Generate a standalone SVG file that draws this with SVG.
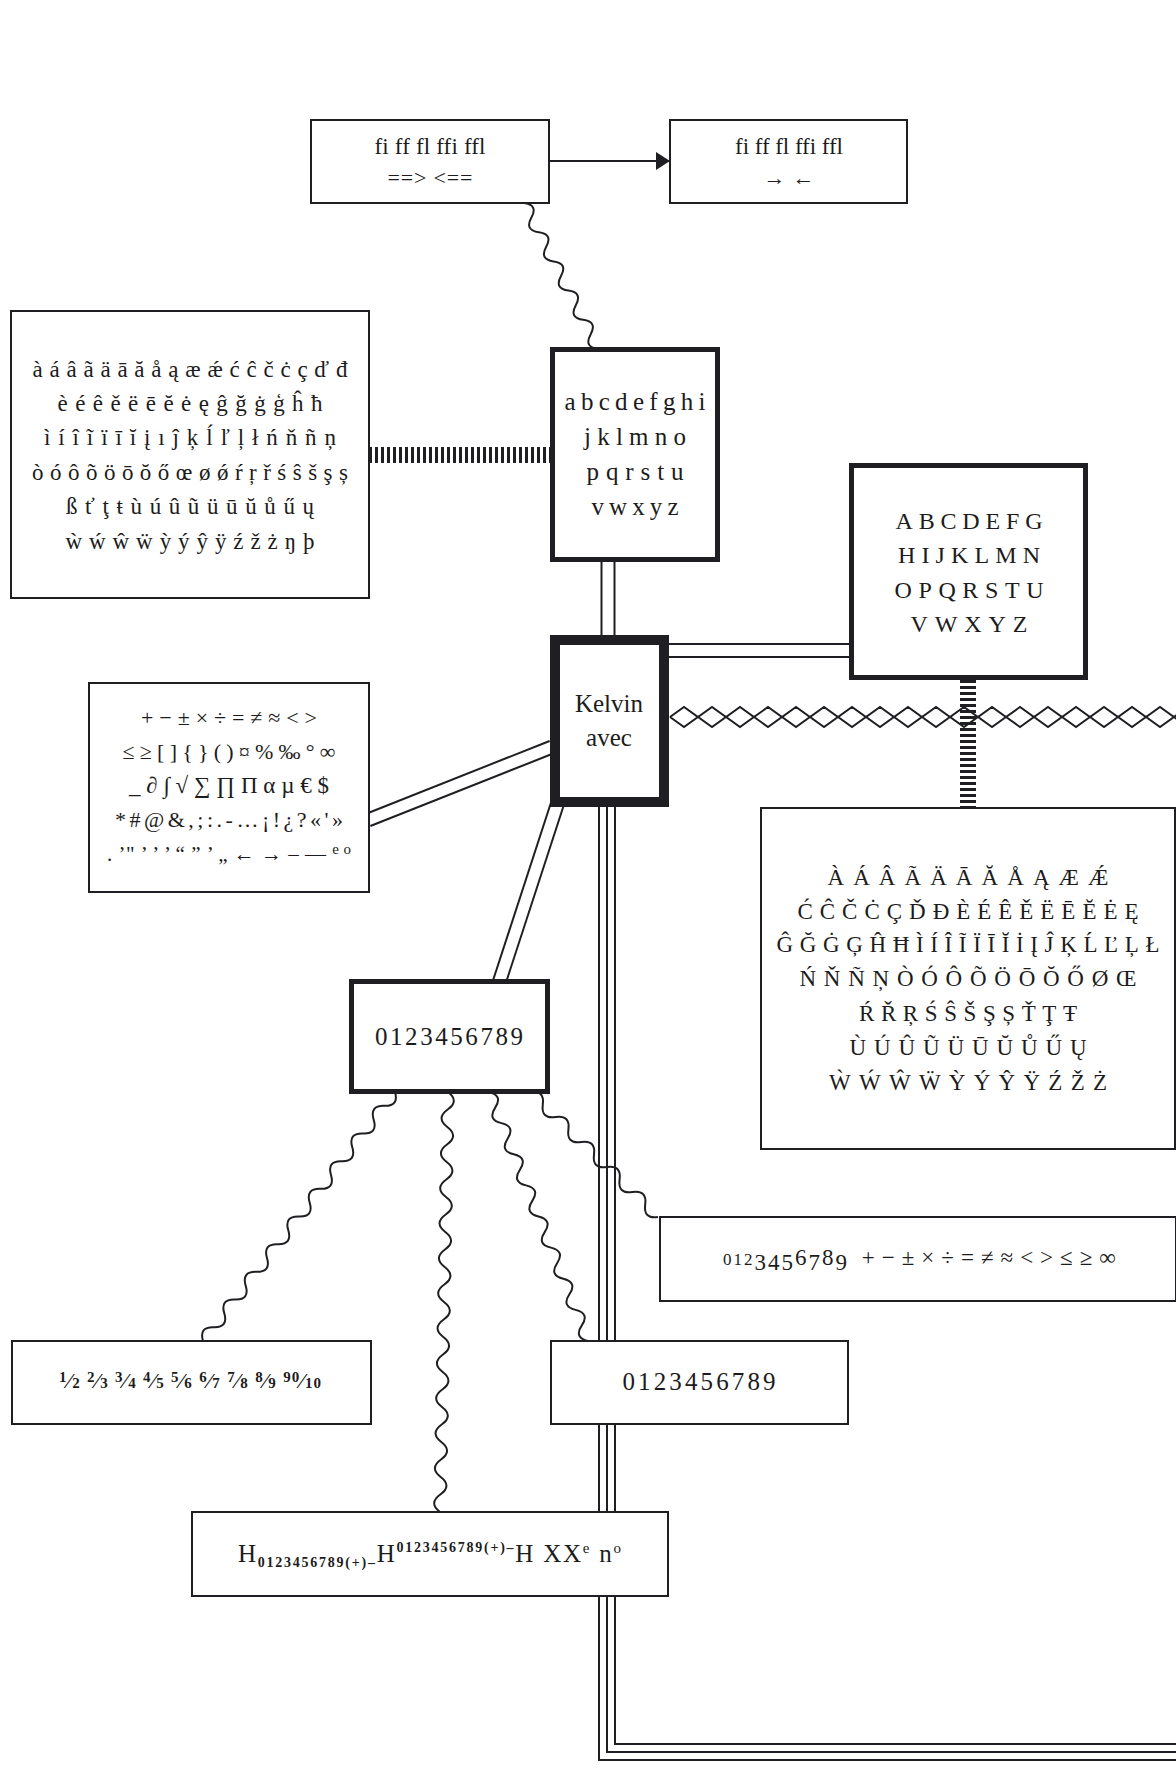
<svg xmlns="http://www.w3.org/2000/svg" width="1176" height="1770" viewBox="0 0 1176 1770">
<defs>
<style>
.box{fill:#fff;stroke:#1f1f23;stroke-width:2}
.thick{stroke-width:5}
.heavy{stroke-width:10}
text{font-family:"Liberation Serif","DejaVu Serif",serif;fill:#1c1c20}
.c{text-anchor:middle}
.ln{fill:none;stroke:#1f1f23;stroke-width:2}
.wave{fill:none;stroke:#1f1f23;stroke-width:2}
.dblo{fill:none;stroke:#1f1f23;stroke-width:15}
.dbli{fill:none;stroke:#fff;stroke-width:11}
.tro{fill:none;stroke:#1f1f23;stroke-width:18}
.tri{fill:none;stroke:#fff;stroke-width:14}
.trc{fill:none;stroke:#1f1f23;stroke-width:2}
.tick{fill:none;stroke:#1f1f23;stroke-width:16;stroke-dasharray:3 3}
</style>
<marker id="arr" markerWidth="14" markerHeight="18" refX="14" refY="9" orient="auto" markerUnits="userSpaceOnUse"><path d="M0,0 L14,9 L0,18 Z" fill="#1f1f23"/></marker>
</defs>
<rect width="1176" height="1770" fill="#fff"/>
<g id="connectors">
<line class="ln" x1="549" y1="161" x2="670" y2="161" stroke-width="2.5" marker-end="url(#arr)"/>
<path class="wave" d="M524,203 Q538.4,204.9 531.4,217.6 T538.8,232.2 T546.2,246.8 T553.6,261.4 T561,276 T568.4,290.6 T575.8,305.2 T583.2,319.8 T590.6,334.4 T598,349"/>
<line class="tick" x1="369" y1="455" x2="550" y2="455"/>
<path class="dblo" d="M608,560 V638"/><path class="dbli" d="M608,560 V638"/>
<path class="dblo" d="M668,650.5 H852"/><path class="dbli" d="M668,650.5 H852"/>
<path class="dblo" d="M368,820 L552,747"/><path class="dbli" d="M368,820 L552,747"/>
<path class="dblo" d="M558,802 L499,983"/><path class="dbli" d="M558,802 L499,983"/>
<path class="ln" d="M670,717 l14,-10 14,10 14,-10 14,10 14,-10 14,10 14,-10 14,10 14,-10 14,10 14,-10 14,10 14,-10 14,10 14,-10 14,10 14,-10 14,10 14,-10 14,10 14,-10 14,10 14,-10 14,10 14,-10 14,10 14,-10 14,10 14,-10 14,10 14,-10 14,10 14,-10 14,10 14,-10 14,10 14,-10 14,10 14,-10 14,10 M670,717 l14,10 14,-10 14,10 14,-10 14,10 14,-10 14,10 14,-10 14,10 14,-10 14,10 14,-10 14,10 14,-10 14,10 14,-10 14,10 14,-10 14,10 14,-10 14,10 14,-10 14,10 14,-10 14,10 14,-10 14,10 14,-10 14,10 14,-10 14,10 14,-10 14,10 14,-10 14,10 14,-10 14,10 14,-10"/>
<line class="tick" x1="968" y1="680" x2="968" y2="808"/>
<path class="tro" d="M607,805 V1752 H1190"/><path class="tri" d="M607,805 V1752 H1190"/><path class="trc" d="M607,805 V1752 H1190"/>
<path class="wave" d="M395,1092 Q399.2,1106.3 384.3,1105.8 T373.7,1119.7 T363,1133.5 T352.3,1147.3 T341.7,1161.2 T331,1175 T320.3,1188.8 T309.7,1202.7 T299,1216.5 T288.3,1230.3 T277.7,1244.2 T267,1258 T256.3,1271.8 T245.7,1285.7 T235,1299.5 T224.3,1313.3 T213.7,1327.2 T203,1341"/>
<path class="wave" d="M448,1092 Q459.8,1101 447.7,1109.5 T447.3,1127 T447,1144.5 T446.7,1162 T446.3,1179.5 T446,1197 T445.7,1214.5 T445.3,1232 T445,1249.5 T444.7,1267 T444.3,1284.5 T444,1302 T443.7,1319.5 T443.3,1337 T443,1354.5 T442.7,1372 T442.3,1389.5 T442,1407 T441.7,1424.5 T441.3,1442 T441,1459.5 T440.7,1477 T440.3,1494.5 T440,1512"/>
<path class="wave" d="M489,1092 Q503.2,1095.4 495.2,1107.6 T501.4,1123.1 T507.6,1138.7 T513.8,1154.3 T519.9,1169.8 T526.1,1185.4 T532.3,1200.9 T538.5,1216.5 T544.7,1232.1 T550.9,1247.6 T557.1,1263.2 T563.3,1278.8 T569.4,1294.3 T575.6,1309.9 T581.8,1325.4 T588,1341"/>
<path class="wave" d="M530,1092 Q544.8,1089.7 542.8,1104.5 T555.6,1117 T568.4,1129.5 T581.2,1142 T594,1154.5 T606.8,1167 T619.6,1179.5 T632.4,1192 T645.2,1204.5 T658,1217"/>
</g>
<g id="node-ligatures">
<rect class="box" x="311" y="120" width="238" height="83"/>
<text class="c" x="430" y="154" font-size="23" textLength="111" lengthAdjust="spacing">fi ff fl ffi ffl</text>
<text class="c" x="430" y="185" font-size="22" textLength="85" lengthAdjust="spacing">==&gt; &lt;==</text>
</g>
<g id="node-ligatures-arrows">
<rect class="box" x="670" y="120" width="237" height="83"/>
<text class="c" x="789" y="154" font-size="23" textLength="108" lengthAdjust="spacing">fi ff fl ffi ffl</text>
<text class="c" x="789" y="185" font-size="22" textLength="51" lengthAdjust="spacing">→ ←</text>
</g>
<g id="node-lower-accents">
<rect class="box" x="11" y="311" width="358" height="287"/>
<text class="c" x="190" y="377" font-size="23" textLength="315" lengthAdjust="spacing">à á â ã ä ā ă å ą æ ǽ ć ĉ č ċ ç ď đ</text>
<text class="c" x="190" y="411" font-size="23" textLength="265" lengthAdjust="spacing">è é ê ě ë ē ĕ ė ę ĝ ğ ġ ģ ĥ ħ</text>
<text class="c" x="190" y="445" font-size="23" textLength="292" lengthAdjust="spacing">ì í î ĩ ï ī ĭ į ı ĵ ķ ĺ ľ ļ ł ń ň ñ ņ</text>
<text class="c" x="190" y="480" font-size="23" textLength="316" lengthAdjust="spacing">ò ó ô õ ö ō ŏ ő œ ø ǿ ŕ ŗ ř ś ŝ š ş ș</text>
<text class="c" x="190" y="514" font-size="23" textLength="248" lengthAdjust="spacing">ß ť ţ ŧ ù ú û ũ ü ū ŭ ů ű ų</text>
<text class="c" x="190" y="549" font-size="23" textLength="249" lengthAdjust="spacing">ẁ ẃ ŵ ẅ ỳ ý ŷ ÿ ź ž ż ŋ þ</text>
</g>
<g id="node-lowercase">
<rect class="box thick" x="552.5" y="349.5" width="165" height="210"/>
<text class="c" x="635" y="410" font-size="25" textLength="141" lengthAdjust="spacing">abcdefghi</text>
<text class="c" x="635" y="445" font-size="25" textLength="102" lengthAdjust="spacing">jklmno</text>
<text class="c" x="635" y="480" font-size="25" textLength="97" lengthAdjust="spacing">pqrstu</text>
<text class="c" x="635" y="515" font-size="25" textLength="87" lengthAdjust="spacing">vwxyz</text>
</g>
<g id="node-uppercase">
<rect class="box thick" x="851.5" y="465.5" width="234" height="212"/>
<text class="c" x="969" y="529" font-size="24" textLength="147" lengthAdjust="spacing">ABCDEFG</text>
<text class="c" x="969" y="563" font-size="24" textLength="142" lengthAdjust="spacing">HIJKLMN</text>
<text class="c" x="969" y="598" font-size="24" textLength="149" lengthAdjust="spacing">OPQRSTU</text>
<text class="c" x="969" y="632" font-size="24" textLength="117" lengthAdjust="spacing">VWXYZ</text>
</g>
<g id="node-kelvin">
<rect class="box heavy" x="555" y="640" width="109" height="162"/>
<text class="c" x="609" y="712" font-size="25">Kelvin</text>
<text class="c" x="609" y="746" font-size="25">avec</text>
</g>
<g id="node-symbols">
<rect class="box" x="89" y="683" width="280" height="209"/>
<text class="c" x="229" y="725" font-size="22" textLength="176" lengthAdjust="spacing">+ − ± × ÷ = ≠ ≈ &lt; &gt;</text>
<text class="c" x="229" y="759" font-size="22" textLength="213" lengthAdjust="spacing">≤ ≥ [ ] { } ( ) ¤ % ‰ ° ∞</text>
<text class="c" x="229" y="793" font-size="23" textLength="200" lengthAdjust="spacing">_ ∂ ∫ √ ∑ ∏ Π α µ € $</text>
<text class="c" x="229" y="827" font-size="22" textLength="228" lengthAdjust="spacing">* # @ &amp; , ; : . - … ¡ ! ¿ ? « ' »</text>
<text x="107" y="861" font-size="21" textLength="244" lengthAdjust="spacing">. ’" ’ ’ ’ “ ” ’ „ ← → – — <tspan font-size="15" dy="-7">e o</tspan></text>
</g>
<g id="node-upper-accents">
<rect class="box" x="761" y="808" width="414" height="341"/>
<text class="c" x="968" y="885" font-size="23" textLength="281" lengthAdjust="spacing">À Á Â Ã Ä Ā Ă Å Ą Æ Ǽ</text>
<text class="c" x="968" y="919" font-size="23" textLength="341" lengthAdjust="spacing">Ć Ĉ Č Ċ Ç Ď Đ È É Ê Ě Ë Ē Ĕ Ė Ę</text>
<text class="c" x="968" y="952" font-size="23" textLength="383" lengthAdjust="spacing">Ĝ Ğ Ġ Ģ Ĥ Ħ Ì Í Î Ĩ Ï Ī Ĭ İ Į Ĵ Ķ Ĺ Ľ Ļ Ł</text>
<text class="c" x="968" y="986" font-size="23" textLength="337" lengthAdjust="spacing">Ń Ň Ñ Ņ Ò Ó Ô Õ Ö Ō Ŏ Ő Ø Œ</text>
<text class="c" x="968" y="1021" font-size="23" textLength="218" lengthAdjust="spacing">Ŕ Ř Ŗ Ś Ŝ Š Ş Ș Ť Ţ Ŧ</text>
<text class="c" x="968" y="1055" font-size="23" textLength="237" lengthAdjust="spacing">Ù Ú Û Ũ Ü Ū Ŭ Ů Ű Ų</text>
<text class="c" x="968" y="1090" font-size="23" textLength="278" lengthAdjust="spacing">Ẁ Ẃ Ŵ Ẅ Ỳ Ý Ŷ Ÿ Ź Ž Ż</text>
</g>
<g id="node-digits">
<rect class="box thick" x="351.5" y="981.5" width="196" height="110"/>
<text class="c" x="449" y="1045" font-size="25" textLength="148" lengthAdjust="spacing">0123456789</text>
</g>
<g id="node-oldstyle">
<rect class="box" x="660" y="1217" width="516" height="84"/>
<text x="723" y="1265" font-size="23" letter-spacing="2"><tspan font-size="17">012</tspan><tspan dy="5">345</tspan><tspan dy="-5">6</tspan><tspan dy="5">7</tspan><tspan dy="-5">8</tspan><tspan dy="5">9</tspan><tspan dy="-5" letter-spacing="7"> +−±×÷=≠≈&lt;&gt;≤≥∞</tspan></text>
</g>
<g id="node-fractions">
<rect class="box" x="12" y="1341" width="359" height="83"/>
<text x="59" y="1388" font-size="21" font-weight="bold" textLength="262" lengthAdjust="spacing"><tspan font-size="15" dy="-6">1</tspan><tspan dy="6">⁄</tspan><tspan font-size="15">2</tspan> <tspan font-size="15" dy="-6">2</tspan><tspan dy="6">⁄</tspan><tspan font-size="15">3</tspan> <tspan font-size="15" dy="-6">3</tspan><tspan dy="6">⁄</tspan><tspan font-size="15">4</tspan> <tspan font-size="15" dy="-6">4</tspan><tspan dy="6">⁄</tspan><tspan font-size="15">5</tspan> <tspan font-size="15" dy="-6">5</tspan><tspan dy="6">⁄</tspan><tspan font-size="15">6</tspan> <tspan font-size="15" dy="-6">6</tspan><tspan dy="6">⁄</tspan><tspan font-size="15">7</tspan> <tspan font-size="15" dy="-6">7</tspan><tspan dy="6">⁄</tspan><tspan font-size="15">8</tspan> <tspan font-size="15" dy="-6">8</tspan><tspan dy="6">⁄</tspan><tspan font-size="15">9</tspan> <tspan font-size="15" dy="-6">90</tspan><tspan dy="6">⁄</tspan><tspan font-size="15">10</tspan></text>
</g>
<g id="node-digits-spaced">
<rect class="box" x="551" y="1341" width="297" height="83"/>
<text class="c" x="699" y="1390" font-size="25" textLength="153" lengthAdjust="spacing">0123456789</text>
</g>
<g id="node-super-sub">
<rect class="box" x="192" y="1512" width="476" height="84"/>
<text x="238" y="1562" font-size="25" textLength="383" lengthAdjust="spacing">H<tspan font-size="14" font-weight="bold" dy="5">0123456789(+)–</tspan><tspan dy="-5">H</tspan><tspan font-size="14" font-weight="bold" dy="-10">0123456789(+)–</tspan><tspan dy="10">H XX</tspan><tspan font-size="15" dy="-9">e</tspan><tspan dy="9"> n</tspan><tspan font-size="15" dy="-9">o</tspan></text>
</g>
</svg>
